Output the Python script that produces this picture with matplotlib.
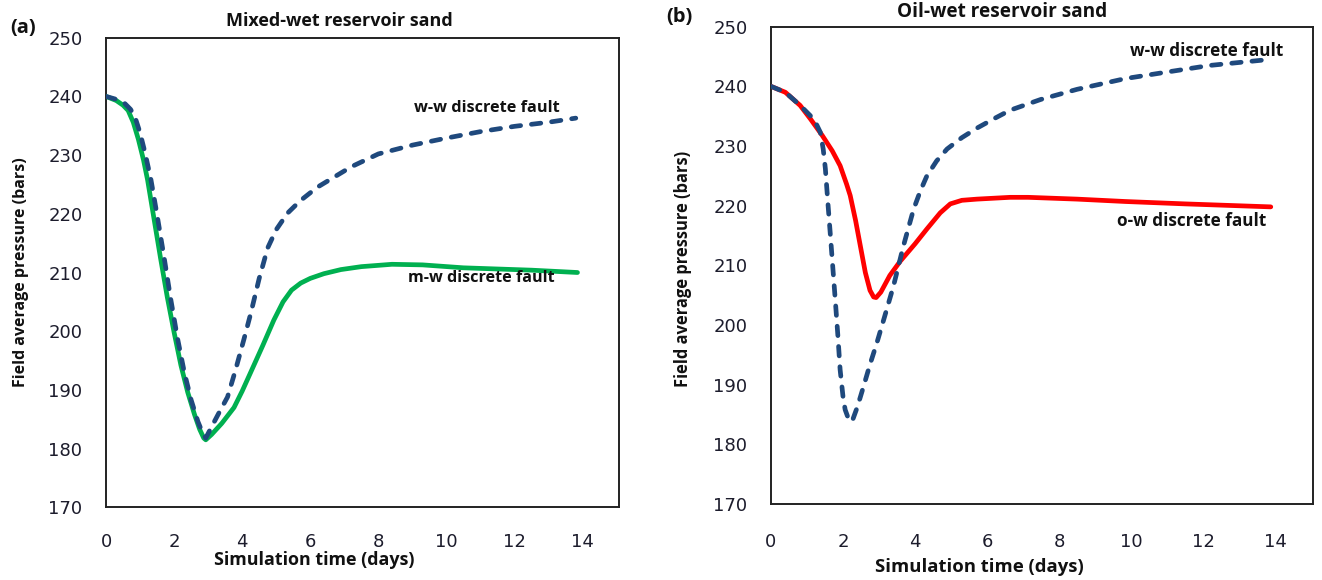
import matplotlib
matplotlib.use("Agg")
import matplotlib.pyplot as plt

# ---- data -------------------------------------------------------------
# (a) Mixed-wet reservoir sand
t_ww_mixed = [0, 0.3, 0.55, 0.72, 0.85, 1.0, 1.15, 1.32, 1.5, 1.7, 1.9, 2.1,
              2.3, 2.5, 2.7, 2.85, 2.93, 3.1, 3.3, 3.57, 3.8, 4.05, 4.25, 4.5,
              4.75, 5.0, 5.33, 5.7, 6.2, 6.6, 7.2, 8.0, 9.0, 10.0, 11.0, 12.0,
              13.0, 13.8]
p_ww_mixed = [240.0, 239.5, 238.8, 237.8, 236.5, 233.8, 230.3, 225.8, 219.8,
              212.8, 205.5, 198.8, 193.0, 188.3, 184.6, 182.5, 181.8, 183.7,
              185.9, 188.8, 193.3, 198.6, 203.0, 209.0, 214.2, 217.3, 220.1,
              222.2, 224.5, 225.9, 228.0, 230.2, 231.7, 232.9, 234.0, 234.9,
              235.6, 236.3]

t_mw_mixed = [0, 0.3, 0.5, 0.65, 0.8, 0.95, 1.1, 1.22, 1.4, 1.6, 1.8, 2.0,
              2.2, 2.4, 2.6, 2.75, 2.87, 2.93, 3.1, 3.4, 3.76, 4.0, 4.25, 4.6,
              4.93, 5.2, 5.45, 5.72, 6.0, 6.4, 6.9, 7.5, 8.4, 9.3, 10.5, 11.5,
              12.5, 13.85]
p_mw_mixed = [240.0, 239.3, 238.5, 237.6, 235.6, 232.7, 229.2, 225.8, 219.5,
              212.5, 205.8, 199.8, 194.2, 189.6, 185.8, 183.3, 181.8, 181.5,
              182.4, 184.3, 187.0, 189.8, 193.0, 197.5, 201.9, 205.0, 207.0,
              208.2, 209.0, 209.8, 210.5, 211.0, 211.4, 211.3, 210.8, 210.6,
              210.4, 210.0]

# (b) Oil-wet reservoir sand
t_ww_oil = [0, 0.4, 0.81, 1.09, 1.25, 1.37, 1.45, 1.51, 1.58, 1.65, 1.72,
            1.79, 1.86, 1.92, 2.0, 2.06, 2.15, 2.25, 2.4, 2.57, 2.75, 2.94,
            3.15, 3.4, 3.68, 3.96, 4.15, 4.33, 4.6, 4.89, 5.3, 5.72, 6.2,
            6.64, 7.49, 8.5, 9.84, 11.0, 12.18, 13.0, 13.83]
p_ww_oil = [240.0, 239.0, 236.8, 235.1, 233.8, 232.3, 229.5, 226.2, 220.5,
            215.0, 209.4, 203.8, 198.0, 192.5, 188.0, 185.8, 184.3, 183.8,
            186.3, 189.7, 193.4, 197.0, 201.3, 206.5, 213.3, 219.4, 222.5,
            225.0, 227.5, 229.5, 231.4, 233.0, 234.6, 236.0, 237.8, 239.5,
            241.3, 242.4, 243.5, 244.0, 244.5]

t_ow_oil = [0, 0.4, 0.81, 1.1, 1.42, 1.7, 1.92, 2.1, 2.2, 2.35, 2.48, 2.62,
            2.75, 2.85, 2.92, 3.05, 3.3, 3.59, 4.0, 4.33, 4.7, 4.98, 5.3,
            5.72, 6.64, 7.14, 8.5, 9.84, 11.5, 13.88]
p_ow_oil = [240.0, 239.0, 236.8, 234.5, 231.8, 229.2, 226.7, 223.6, 221.7,
            217.5, 213.3, 208.8, 205.8, 204.7, 204.6, 205.5, 208.3, 210.7,
            213.6, 216.1, 218.8, 220.3, 220.9, 221.1, 221.4, 221.4, 221.1,
            220.7, 220.3, 219.8]

x_ticks = [0, 2, 4, 6, 8, 10, 12, 14]
y_ticks = [170, 180, 190, 200, 210, 220, 230, 240, 250]

# ---- styling ----------------------------------------------------------
BLUE = "#1F497D"
GREEN = "#00B050"
RED = "#FF0000"
TICK_COLOR = "#1c1c2c"
LABEL_FONT = "Open Sans"

fig = plt.figure(figsize=(13.22, 5.8), dpi=100)
fig.patch.set_facecolor("white")

ax_a = fig.add_axes([0.0802, 0.1253, 0.3883, 0.8097])
ax_b = fig.add_axes([0.5832, 0.1310, 0.4102, 0.8230])


def style_axes(ax, xmax, xpad):
    ax.set_xlim(0, xmax)
    ax.set_ylim(170, 250)
    ax.set_xticks(x_ticks)
    ax.set_yticks(y_ticks)
    ax.tick_params(axis="both", length=0, labelsize=13,
                   labelcolor=TICK_COLOR)
    ax.tick_params(axis="x", pad=xpad)
    ax.tick_params(axis="y", pad=17)
    for sp in ax.spines.values():
        sp.set_linewidth(1.4)
        sp.set_color("#222222")


def dashed(ax, t, p):
    ln, = ax.plot(t, p, color=BLUE, lw=3.4, solid_capstyle="round",
                  dash_capstyle="round", zorder=4)
    ln.set_dashes([2.0, 2.3])
    return ln


txt = dict(fontweight="bold", family=LABEL_FONT, color="#111111")

# panel (a)
ax_a.plot(t_mw_mixed, p_mw_mixed, color=GREEN, lw=3.4,
          solid_capstyle="round", solid_joinstyle="round", zorder=3)
dashed(ax_a, t_ww_mixed, p_ww_mixed)
style_axes(ax_a, 15.08, 18.2)
ax_a.text(9.06, 238.1, "w-w discrete fault", fontsize=11.7,
          va="center", ha="left", **txt)
ax_a.text(8.86, 209.15, "m-w discrete fault", fontsize=11.6,
          va="center", ha="left", **txt)

# panel (b)
ax_b.plot(t_ow_oil, p_ow_oil, color=RED, lw=3.4,
          solid_capstyle="round", solid_joinstyle="round", zorder=3)
dashed(ax_b, t_ww_oil, p_ww_oil)
style_axes(ax_b, 15.06, 20.6)
ax_b.text(9.97, 245.95, "w-w discrete fault", fontsize=12.3,
          va="center", ha="left", **txt)
ax_b.text(9.61, 217.5, "o-w discrete fault", fontsize=12.3,
          va="center", ha="left", **txt)

# titles, panel letters and axis labels
fig.text(0.257, 0.964, "Mixed-wet reservoir sand", fontsize=13,
         ha="center", va="center", **txt)
fig.text(0.7577, 0.980, "Oil-wet reservoir sand", fontsize=13.7,
         ha="center", va="center", **txt)
fig.text(0.0174, 0.952, "(a)", fontsize=14.5, ha="center", va="center", **txt)
fig.text(0.514, 0.971, "(b)", fontsize=14.5, ha="center", va="center", **txt)

fig.text(0.2375, 0.0345, "Simulation time (days)", fontsize=12.9,
         ha="center", va="center", **txt)
fig.text(0.7405, 0.0224, "Simulation time (days)", fontsize=13.3,
         ha="center", va="center", **txt)
fig.text(0.0159, 0.531, "Field average pressure (bars)", fontsize=11.5,
         rotation=90, ha="center", va="center", **txt)
fig.text(0.5166, 0.536, "Field average pressure (bars)", fontsize=11.9,
         rotation=90, ha="center", va="center", **txt)

fig.savefig("out.png", dpi=100, facecolor="white")
